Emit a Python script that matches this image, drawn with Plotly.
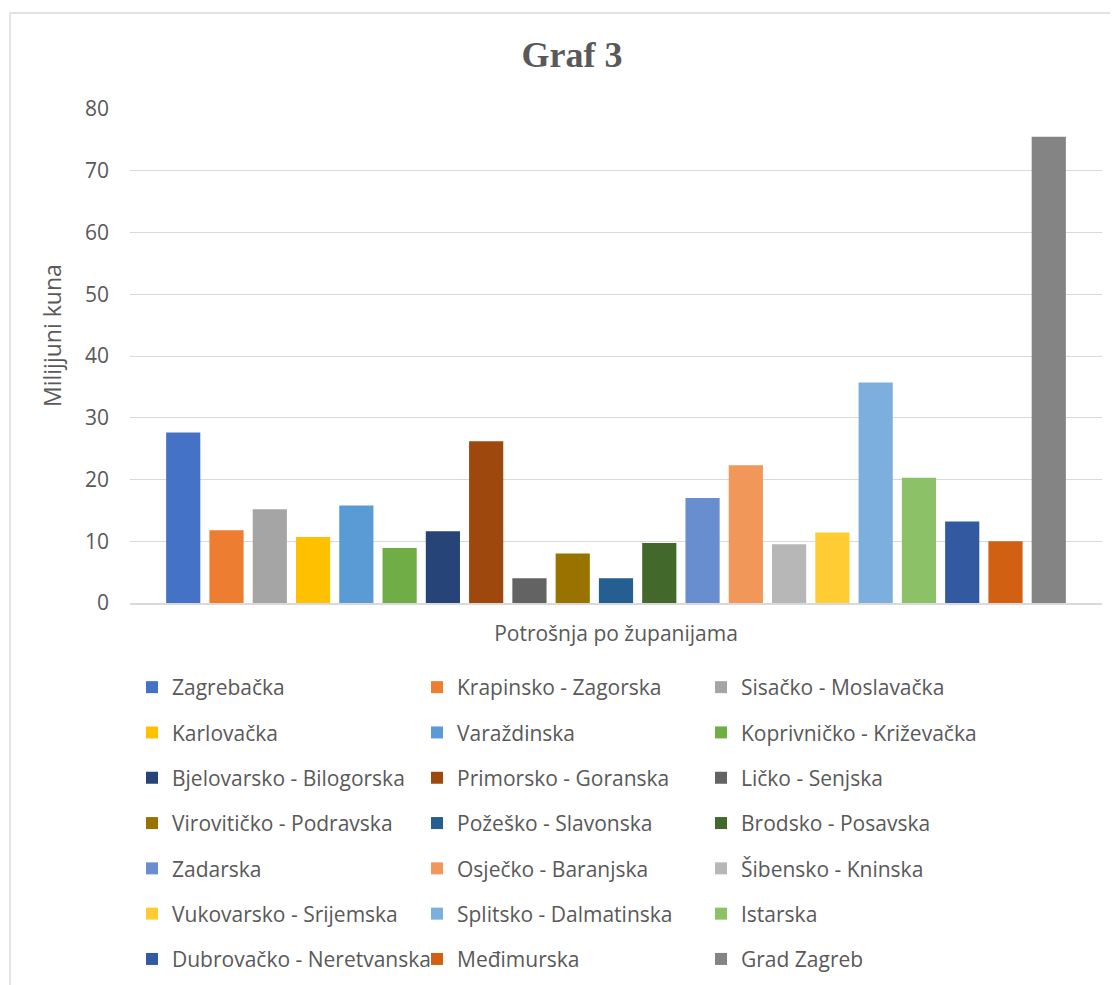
import plotly.graph_objects as go

category = ["Potrošnja po županijama"]
counties = [
    "Zagrebačka", "Krapinsko - Zagorska", "Sisačko - Moslavačka",
    "Karlovačka", "Varaždinska", "Koprivničko - Križevačka",
    "Bjelovarsko - Bilogorska", "Primorsko - Goranska", "Ličko - Senjska",
    "Virovitičko - Podravska", "Požeško - Slavonska", "Brodsko - Posavska",
    "Zadarska", "Osječko - Baranjska", "Šibensko - Kninska",
    "Vukovarsko - Srijemska", "Splitsko - Dalmatinska", "Istarska",
    "Dubrovačko - Neretvanska", "Međimurska", "Grad Zagreb",
]
values = [27.6, 11.8, 15.2, 10.7, 15.8, 8.9, 11.6, 26.2, 4.0, 8.0,
          4.0, 9.7, 17.0, 22.3, 9.5, 11.4, 35.7, 20.3, 13.2, 10.0, 75.5]
colors = ["#4472C4", "#ED7D31", "#A5A5A5", "#FFC000", "#5B9BD5", "#70AD47",
          "#264478", "#9E480E", "#636363", "#997300", "#255E91", "#43682B",
          "#698ED0", "#F1975A", "#B7B7B7", "#FFCD33", "#7CAFDD", "#8CC168",
          "#335AA1", "#D26012", "#848484"]
y_ticks = [0, 10, 20, 30, 40, 50, 60, 70, 80]

TEXT = "#595959"
FONT = "Open Sans"
legend_names = ["legend", "legend2", "legend3"]

fig = go.Figure()
for i, (name, v, c) in enumerate(zip(counties, values, colors)):
    fig.add_trace(go.Bar(
        x=category, y=[v], name=name, marker_color=c,
        marker_line_width=0, legendgroup=f"g{i}",
        legend=legend_names[i % 3],
    ))

# page offset (browser body margin)
OFF = 8
W, H = 1118, 985
# plot area in screenshot coordinates: x 130..1102, y 109..603
SX0, SX1, SY0, SY1 = 130, 1102, 109, 603
L = SX0 - OFF
T = SY0 - OFF
R = W - (SX1 - OFF)
B = H - (SY1 - OFF)
pw, ph = SX1 - SX0, SY1 - SY0

def px(x):
    return (x - SX0) / pw

def py(y):
    return (SY1 - y) / ph

legend_common = dict(
    orientation="v", xanchor="left", yanchor="top",
    font=dict(family=FONT, size=21, color=TEXT),
    bgcolor="rgba(0,0,0,0)", tracegroupgap=15, traceorder="grouped",
    itemclick=False, itemdoubleclick=False,
)

fig.update_layout(
    width=W, height=H,
    margin=dict(l=L, r=R, t=T, b=B),
    paper_bgcolor="white", plot_bgcolor="white",
    barmode="group", bargap=0.065, bargroupgap=0.21,
    title=dict(text="<b>Graf 3</b>", x=(572 - OFF) / W, xanchor="center",
               y=1 - (54 - OFF) / H, yanchor="middle",
               font=dict(family="Liberation Serif", size=36, color=TEXT)),
    xaxis=dict(showgrid=False, showline=True, linecolor="#D9D9D9",
               linewidth=1.5, ticks="", zeroline=False, ticklabelstandoff=11,
               tickfont=dict(family=FONT, size=21, color=TEXT)),
    yaxis=dict(range=[0, 80], tickvals=y_ticks, showgrid=True,
               gridcolor="#D9D9D9", gridwidth=1.3, zeroline=False,
               showline=False, ticks="", ticklabelstandoff=20,
               tickfont=dict(family=FONT, size=21, color=TEXT)),
    legend=dict(x=px(132), y=py(667), **legend_common),
    legend2=dict(x=px(417), y=py(667), **legend_common),
    legend3=dict(x=px(701), y=py(667), **legend_common),
    showlegend=True,
    annotations=[dict(text="Milijjuni kuna", textangle=-90, x=px(52), y=py(336),
                      xref="paper", yref="paper", showarrow=False,
                      xanchor="center", yanchor="middle",
                      font=dict(family=FONT, size=23, color=TEXT))],
    shapes=[dict(type="rect", xref="paper", yref="paper",
                 x0=px(10), x1=px(1140), y0=py(1010), y1=py(13),
                 line=dict(color="#D9D9D9", width=1.3), layer="below")],
)

fig.write_html("out.html")
